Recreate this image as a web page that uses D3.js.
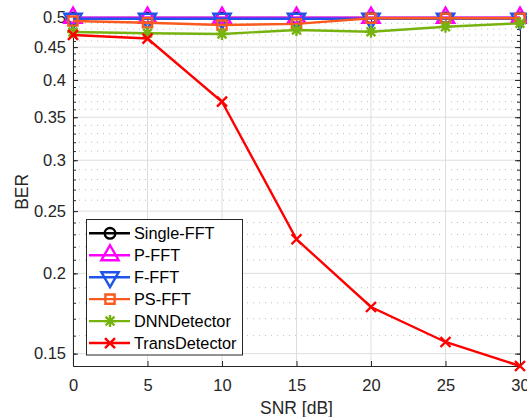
<html>
<head>
<style>
body { margin: 0; background: #fff; }
text { font-family: "Liberation Sans", Arial, sans-serif; }
</style>
</head>
<body>
<script src="https://d3js.org/d3.v7.min.js"></script>
<script>

// data
var snr = [0, 5, 10, 15, 20, 25, 30];
var singleFFT = [0.4995, 0.4995, 0.4995, 0.4995, 0.4995, 0.4995, 0.4995];
var pFFT = [0.5, 0.5, 0.5, 0.5, 0.5, 0.5, 0.5];
var fFFT = [0.498, 0.498, 0.498, 0.498, 0.498, 0.498, 0.498];
var psFFT = [0.494, 0.491, 0.487, 0.489, 0.499, 0.499, 0.499];
var dnnDetector = [0.475, 0.473, 0.4716, 0.4785, 0.4755, 0.4841, 0.490];
var transDetector = [0.470, 0.464, 0.370, 0.226, 0.1773, 0.1564, 0.1435];

var seriesNames = ["Single-FFT", "P-FFT", "F-FFT", "PS-FFT", "DNNDetector", "TransDetector"];
var seriesValues = [singleFFT, pFFT, fFFT, psFFT, dnnDetector, transDetector];
var seriesColors = ["#000000", "#ff00ff", "#1f55e8", "#fa5a1e", "#77b30f", "#ff0000"];
var seriesMarkers = ["o", "^", "v", "s", "*", "x"];

var xTicks = [0, 5, 10, 15, 20, 25, 30];
var yTicks = [0.15, 0.2, 0.25, 0.3, 0.35, 0.4, 0.45, 0.5];
var yTickLabels = ["0.15", "0.2", "0.25", "0.3", "0.35", "0.4", "0.45", "0.5"];
var yMinor = d3.range(15, 51).map(function(d) { return d / 100; });

// layout
var width = 527, height = 417;
var plotLeft = 73, plotRight = 520, plotTop = 17.7, plotBottom = 366;
var axisColor = "#262626";
var lw = 2.4;

var svg = d3.select("body").append("svg")
    .attr("width", width)
    .attr("height", height);

var x = d3.scaleLinear().domain([0, 30]).range([plotLeft, plotRight]);
var y = d3.scaleLog().domain([0.1435, 0.5]).range([plotBottom, plotTop]);

// grid
var grid = svg.append("g");
grid.selectAll(".ymin")
    .data(yMinor.filter(function(d) { return yTicks.indexOf(d) < 0; }))
    .enter().append("line")
    .attr("x1", plotLeft).attr("x2", plotRight)
    .attr("y1", function(d) { return y(d); })
    .attr("y2", function(d) { return y(d); })
    .attr("stroke", "#bdbdbd")
    .attr("stroke-dasharray", "1,5");
grid.selectAll(".ymaj")
    .data(yTicks)
    .enter().append("line")
    .attr("x1", plotLeft).attr("x2", plotRight)
    .attr("y1", function(d) { return y(d); })
    .attr("y2", function(d) { return y(d); })
    .attr("stroke", "#dedede");
grid.selectAll(".xmaj")
    .data(xTicks)
    .enter().append("line")
    .attr("y1", plotTop).attr("y2", plotBottom)
    .attr("x1", function(d) { return x(d); })
    .attr("x2", function(d) { return x(d); })
    .attr("stroke", "#dedede");

// axes
function styleAxis(g) {
    g.select(".domain").attr("stroke", axisColor);
    g.selectAll(".tick line").attr("stroke", axisColor);
    g.selectAll(".tick text").attr("fill", axisColor).style("font-size", "16.5px")
        .style("font-family", "'Liberation Sans', Arial, sans-serif");
}

svg.append("g")
    .attr("transform", "translate(0," + plotBottom + ")")
    .call(d3.axisBottom(x).tickValues(xTicks).tickSize(-5).tickPadding(13).tickSizeOuter(0))
    .call(styleAxis);
svg.append("g")
    .attr("transform", "translate(0," + plotTop + ")")
    .call(d3.axisTop(x).tickValues(xTicks).tickSize(-5).tickFormat("").tickSizeOuter(0))
    .call(styleAxis);
svg.append("g")
    .attr("transform", "translate(" + plotLeft + ",0)")
    .call(d3.axisLeft(y).tickValues(yTicks).tickSize(-5).tickPadding(7).tickSizeOuter(0)
        .tickFormat(function(d, i) { return yTickLabels[i]; }))
    .call(styleAxis);
svg.append("g")
    .attr("transform", "translate(" + plotLeft + ",0)")
    .call(d3.axisLeft(y).tickValues(yMinor).tickSize(-3).tickFormat("").tickSizeOuter(0))
    .call(styleAxis);
svg.append("g")
    .attr("transform", "translate(" + plotRight + ",0)")
    .call(d3.axisRight(y).tickValues(yTicks).tickSize(-5).tickFormat("").tickSizeOuter(0))
    .call(styleAxis);
svg.append("g")
    .attr("transform", "translate(" + plotRight + ",0)")
    .call(d3.axisRight(y).tickValues(yMinor).tickSize(-3).tickFormat("").tickSizeOuter(0))
    .call(styleAxis);

// markers
var markerPaths = {
    "o": d3.symbol().type(d3.symbolCircle).size(Math.PI * 5.3 * 5.3)(),
    "^": "M0,-10L8.66,5L-8.66,5Z",
    "v": "M0,10L8.66,-5L-8.66,-5Z",
    "s": "M-4.6,-4.6H4.6V4.6H-4.6Z",
    "*": "M-6,0H6M0,-6V6M-4.4,-4.4L4.4,4.4M-4.4,4.4L4.4,-4.4",
    "x": "M-5,-5L5,5M-5,5L5,-5"
};

function drawMarker(g, type, color, cx, cy) {
    g.append("path")
        .attr("d", markerPaths[type])
        .attr("transform", "translate(" + cx + "," + cy + ")")
        .attr("fill", "none")
        .attr("stroke", color)
        .attr("stroke-width", lw);
}

// series
var line = d3.line()
    .x(function(d, i) { return x(snr[i]); })
    .y(function(d) { return y(d); });

seriesValues.forEach(function(vals, k) {
    var g = svg.append("g");
    g.append("path")
        .attr("d", line(vals))
        .attr("fill", "none")
        .attr("stroke", seriesColors[k])
        .attr("stroke-width", lw);
    vals.forEach(function(v, i) {
        drawMarker(g, seriesMarkers[k], seriesColors[k], x(snr[i]), y(v));
    });
});

// legend
var legend = svg.append("g");
legend.append("rect")
    .attr("x", 86.5).attr("y", 219.5)
    .attr("width", 156).attr("height", 135.5)
    .attr("fill", "#fff")
    .attr("stroke", axisColor);
seriesNames.forEach(function(name, k) {
    var cy = 233.3 + k * 21.95;
    legend.append("line")
        .attr("x1", 89).attr("x2", 130)
        .attr("y1", cy).attr("y2", cy)
        .attr("stroke", seriesColors[k])
        .attr("stroke-width", lw);
    drawMarker(legend, seriesMarkers[k], seriesColors[k], 110, cy);
    legend.append("text")
        .attr("x", 134).attr("y", cy + 5.8)
        .style("font-size", "16.3px")
        .attr("fill", "#000")
        .text(name);
});

// axis labels
svg.append("text")
    .attr("x", (plotLeft + plotRight) / 2).attr("y", 414)
    .attr("text-anchor", "middle")
    .style("font-size", "17.5px")
    .attr("fill", axisColor)
    .text("SNR [dB]");
svg.append("text")
    .attr("transform", "translate(28," + ((plotTop + plotBottom) / 2) + ") rotate(-90)")
    .attr("text-anchor", "middle")
    .style("font-size", "17.5px")
    .attr("fill", axisColor)
    .text("BER");

</script>
</body>
</html>
